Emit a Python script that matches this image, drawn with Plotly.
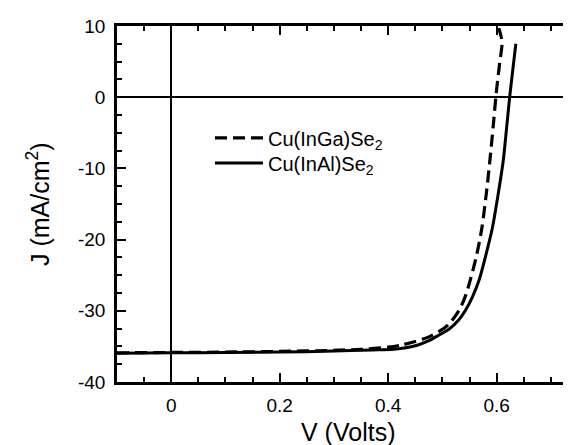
import plotly.graph_objects as go

# Cu(InGa)Se2 (dashed)
v_cigs = [-0.1, 0.0, 0.1, 0.2, 0.3, 0.35, 0.4, 0.425, 0.45, 0.474, 0.494, 0.51, 0.525, 0.535,
          0.543, 0.5524, 0.563, 0.5727, 0.581, 0.5874, 0.594, 0.5985, 0.602, 0.606, 0.610,
          0.608, 0.604]
j_cigs = [-35.9, -35.85, -35.8, -35.7, -35.55, -35.4, -35.1, -34.8, -34.3, -33.7, -32.9,
          -32.0, -30.6, -29.3, -27.8, -25.4, -22.2, -18.4, -13.5, -9.0, -3.8, 0.0, 2.5,
          5.0, 7.6, 8.6, 9.7]

# Cu(InAl)Se2 (solid)
v_cias = [-0.1, 0.0, 0.1, 0.2, 0.3, 0.37, 0.41, 0.433, 0.455, 0.475, 0.494, 0.512, 0.53,
          0.542, 0.555, 0.568, 0.58, 0.592, 0.602, 0.612, 0.618, 0.624, 0.630, 0.6354]
j_cias = [-35.95, -35.9, -35.85, -35.8, -35.65, -35.5, -35.4, -35.2, -34.8, -34.2, -33.4,
          -32.6, -31.3, -30.0, -28.1, -25.6, -22.2, -18.4, -14.0, -9.0, -4.6, 0.0, 4.0, 7.5]

x_label_vals = [0.0, 0.2, 0.4, 0.6]
x_label_text = ["0", "0.2", "0.4", "0.6"]
x_major_vals = [-0.1, 0.0, 0.1, 0.2, 0.3, 0.4, 0.5, 0.6, 0.7]
y_tickvals = [-40, -30, -20, -10, 0, 10]
y_ticktext = ["-40", "-30", "-20", "-10", "0", "10"]
x_title = "V (Volts)"
y_title = "J (mA/cm<sup>2</sup>)"

font_family = "Liberation Sans, Arial, sans-serif"
x_range = [-0.1, 0.75]
y_range = [-40, 10]

fig = go.Figure()
fig.add_trace(go.Scatter(x=v_cigs, y=j_cigs, mode="lines", name="Cu(InGa)Se<sub>2</sub>",
                         legend="legend",
                         line=dict(color="black", width=3.2, dash="12px,6px",
                                   shape="spline", smoothing=0.8)))
fig.add_trace(go.Scatter(x=v_cias, y=j_cias, mode="lines", name="Cu(InAl)Se<sub>2</sub>",
                         legend="legend2",
                         line=dict(color="black", width=3, shape="spline", smoothing=0.8)))

tick_font = dict(family=font_family, size=19, color="black")
title_font = dict(family=font_family, size=25, color="black")
legend_font = dict(family=font_family, size=20, color="black")

fig.update_layout(
    width=571, height=445,
    margin=dict(l=109, r=1, t=18, b=71),
    paper_bgcolor="white", plot_bgcolor="white",
    showlegend=True,
    legend=dict(x=0.2017, y=0.6856, xanchor="left", yanchor="middle",
                bgcolor="rgba(0,0,0,0)", borderwidth=0,
                font=legend_font, itemwidth=48),
    legend2=dict(x=0.2017, y=0.615, xanchor="left", yanchor="middle",
                 bgcolor="rgba(0,0,0,0)", borderwidth=0,
                 font=legend_font, itemwidth=48),
    xaxis=dict(
        range=x_range, automargin=False,
        showline=True, linecolor="black", linewidth=2.5, mirror="ticks",
        ticks="inside", tickcolor="black", tickwidth=1.8, ticklen=9,
        tickmode="array", tickvals=x_label_vals, ticktext=x_label_text,
        tickfont=tick_font, ticklabelstandoff=4,
        minor=dict(dtick=0.05, tick0=0, ticks="inside", ticklen=5, tickwidth=1.5,
                   tickcolor="black", showgrid=False),
        showgrid=False, zeroline=True, zerolinecolor="black", zerolinewidth=2,
    ),
    xaxis2=dict(
        range=x_range, overlaying="x", anchor="y", side="bottom", automargin=False,
        showline=False, mirror="ticks",
        ticks="inside", tickcolor="black", tickwidth=1.8, ticklen=9,
        tickmode="array", tickvals=x_major_vals, showticklabels=False,
        showgrid=False, zeroline=False,
    ),
    yaxis=dict(
        range=y_range, automargin=False,
        showline=True, linecolor="black", linewidth=2.5, mirror="ticks",
        ticks="inside", tickcolor="black", tickwidth=1.8, ticklen=9,
        tickmode="array", tickvals=y_tickvals, ticktext=y_ticktext,
        tickfont=tick_font, ticklabelstandoff=5,
        minor=dict(dtick=2.5, tick0=0, ticks="inside", ticklen=5, tickwidth=1.5,
                   tickcolor="black", showgrid=False),
        showgrid=False, zeroline=True, zerolinecolor="black", zerolinewidth=2,
    ),
    annotations=[
        dict(text=x_title, xref="paper", yref="paper", x=0.5, y=0,
             xanchor="center", yanchor="middle", yshift=-50, showarrow=False,
             font=title_font),
        dict(text=y_title, xref="paper", yref="paper", x=0, y=0.5,
             xanchor="center", yanchor="middle", xshift=-79, textangle=-90,
             showarrow=False, font=title_font),
    ],
)

fig.write_html("out.html")
